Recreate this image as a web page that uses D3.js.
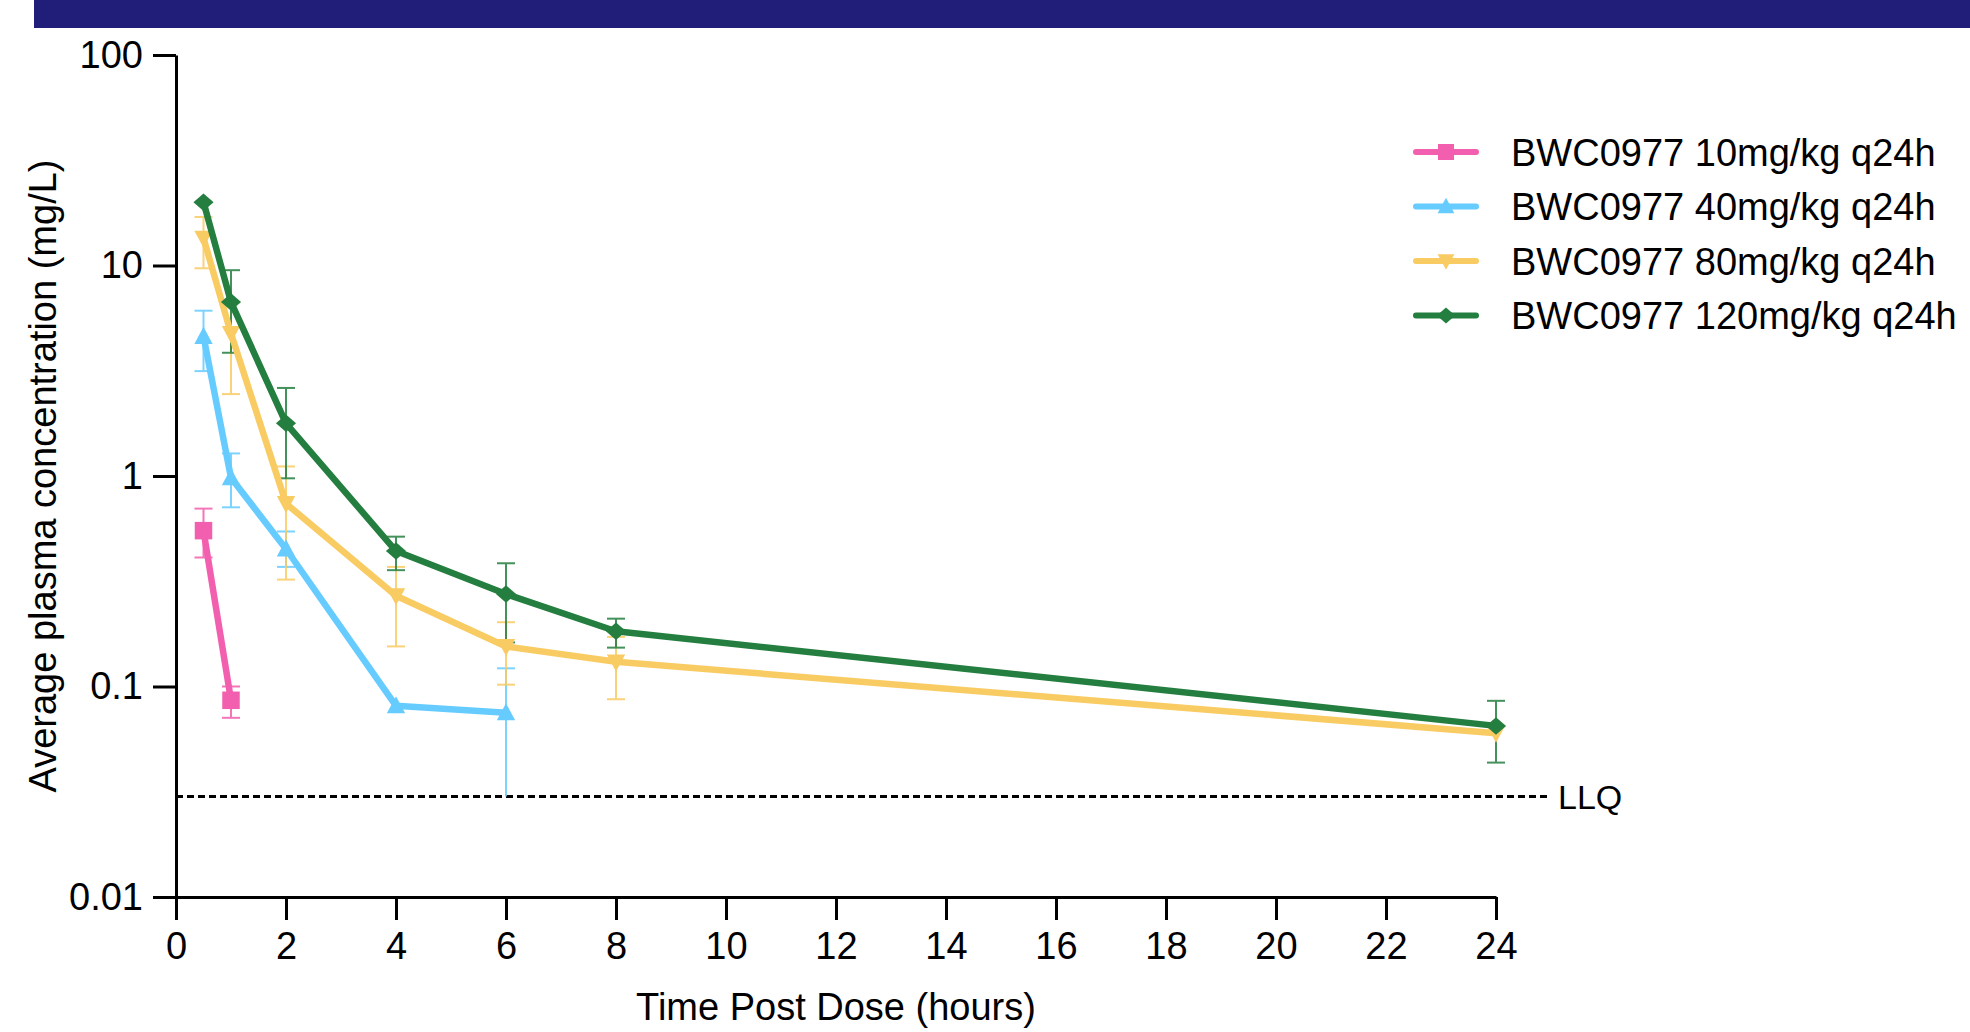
<!DOCTYPE html>
<html>
<head>
<meta charset="utf-8">
<script src="https://cdn.jsdelivr.net/npm/d3@7"></script>
<style>
  html, body { margin: 0; padding: 0; background: #ffffff; }
  svg { display: block; }
  text { font-family: "Liberation Sans", Arial, Helvetica, sans-serif; fill: #000; }
</style>
</head>
<body>
<svg id="chart" width="1970" height="1032"></svg>
<script>
// ---------------- DATA ----------------
const seriesNames = [
  "BWC0977 10mg/kg q24h",
  "BWC0977 40mg/kg q24h",
  "BWC0977 80mg/kg q24h",
  "BWC0977 120mg/kg q24h"
];
const seriesColors = ["#F25FAE", "#66CCFF", "#F9CB63", "#247E3F"];
const seriesSymbols = ["square", "triangleUp", "triangleDown", "diamond"];

// time points (hours)
const times10  = [0.5, 1];
const times40  = [0.5, 1, 2, 4, 6];
const times80  = [0.5, 1, 2, 4, 6, 8, 24];
const times120 = [0.5, 1, 2, 4, 6, 8, 24];

// mean concentrations (mg/L)
const mean10  = [0.55, 0.086];
const mean40  = [4.6, 0.98, 0.45, 0.081, 0.075];
const mean80  = [13.5, 4.75, 0.74, 0.27, 0.155, 0.131, 0.060];
const mean120 = [20.0, 6.7, 1.78, 0.44, 0.275, 0.183, 0.065];

// error bar upper / lower limits (mg/L), null = not shown
const upper10  = [0.70, 0.100];
const lower10  = [0.41, 0.071];
const upper40  = [6.1, 1.28, 0.545, null, 0.122];
const lower40  = [3.15, 0.71, 0.37, null, 0.030];
const upper80  = [17.0, 6.7, 1.11, 0.37, 0.202, 0.172, null];
const lower80  = [9.7, 2.45, 0.322, 0.155, 0.102, 0.087, null];
const upper120 = [null, 9.5, 2.62, 0.515, 0.385, 0.21, 0.0855];
const lower120 = [null, 3.85, 0.975, 0.357, 0.162, 0.153, 0.0435];

const xTickValues = [0, 2, 4, 6, 8, 10, 12, 14, 16, 18, 20, 22, 24];
const yTickValues = [0.01, 0.1, 1, 10, 100];
const yTickLabels = ["0.01", "0.1", "1", "10", "100"];
const llqValue = 0.03;
const llqLabel = "LLQ";
const xTitle = "Time Post Dose (hours)";
const yTitle = "Average plasma concentration (mg/L)";

// -------------- BUILD -----------------
const seriesTimes = [times10, times40, times80, times120];
const seriesMeans = [mean10, mean40, mean80, mean120];
const seriesUpper = [upper10, upper40, upper80, upper120];
const seriesLower = [lower10, lower40, lower80, lower120];

const series = seriesNames.map((name, i) => ({
  name, color: seriesColors[i], symbol: seriesSymbols[i],
  points: seriesTimes[i].map((t, j) => ({
    t, v: seriesMeans[i][j], hi: seriesUpper[i][j], lo: seriesLower[i][j]
  }))
}));

const svg = d3.select("#chart");
const W = 1970, H = 1032;
const plot = { left: 176, right: 1496, top: 55, bottom: 897 };

// banner
svg.append("rect").attr("x", 34).attr("y", 0).attr("width", W - 34).attr("height", 28)
  .attr("fill", "#211E7A");

const x = d3.scaleLinear().domain([0, 24]).range([plot.left, plot.right]);
const y = d3.scaleLog().domain([0.01, 100]).range([plot.bottom, plot.top]);

const FS = 38;

// Y axis
const yAxis = d3.axisLeft(y).tickValues(yTickValues)
  .tickFormat((d, i) => yTickLabels[i]).tickSize(23).tickSizeOuter(0).tickPadding(10);
const gy = svg.append("g").attr("transform", `translate(${plot.left},0)`).call(yAxis);
gy.select(".domain").attr("stroke", "#000").attr("stroke-width", 3);
gy.selectAll(".tick line").attr("stroke", "#000").attr("stroke-width", 3);
gy.selectAll(".tick text").attr("font-size", FS).attr("font-family", "Liberation Sans, Arial, sans-serif")
  .attr("fill", "#000");

// X axis
const xAxis = d3.axisBottom(x).tickValues(xTickValues)
  .tickSize(23).tickSizeOuter(0).tickPadding(12);
const gx = svg.append("g").attr("transform", `translate(0,${plot.bottom})`).call(xAxis);
gx.select(".domain").attr("stroke", "#000").attr("stroke-width", 3);
gx.selectAll(".tick line").attr("stroke", "#000").attr("stroke-width", 3);
gx.selectAll(".tick text").attr("font-size", FS).attr("font-family", "Liberation Sans, Arial, sans-serif")
  .attr("fill", "#000");

// axis titles
svg.append("text").attr("x", (plot.left + plot.right) / 2).attr("y", 1020)
  .attr("text-anchor", "middle").attr("font-size", FS).text(xTitle);
svg.append("text")
  .attr("transform", `translate(56,${(plot.top + plot.bottom) / 2}) rotate(-90)`)
  .attr("text-anchor", "middle").attr("font-size", FS).text(yTitle);

// LLQ line
svg.append("line").attr("x1", plot.left).attr("x2", 1547)
  .attr("y1", y(llqValue)).attr("y2", y(llqValue))
  .attr("stroke", "#000").attr("stroke-width", 3).attr("stroke-dasharray", "7,4");
svg.append("text").attr("x", 1558).attr("y", y(llqValue)).attr("dy", "0.36em")
  .attr("font-size", 34).text(llqLabel);

// symbol generator
function symPath(kind, s) {
  const h = s / 2;
  switch (kind) {
    case "square": return `M${-h},${-h}H${h}V${h}H${-h}Z`;
    case "triangleUp": return `M0,${-h * 1.1}L${h * 1.05},${h * 0.85}L${-h * 1.05},${h * 0.85}Z`;
    case "triangleDown": return `M0,${h * 1.1}L${h * 1.05},${-h * 0.85}L${-h * 1.05},${-h * 0.85}Z`;
    case "diamond": return `M0,${-h * 1.0}L${h * 1.15},0L0,${h * 1.0}L${-h * 1.15},0Z`;
  }
}

const line = d3.line().x(d => x(d.t)).y(d => y(d.v));
const capW = 9;

// error bars
series.forEach(s => {
  const g = svg.append("g").attr("opacity", 0.85);
  s.points.forEach(p => {
    if (p.hi == null) return;
    const cx = x(p.t);
    g.append("line").attr("x1", cx).attr("x2", cx).attr("y1", y(p.hi)).attr("y2", y(p.lo))
      .attr("stroke", s.color).attr("stroke-width", 2);
    g.append("line").attr("x1", cx - capW).attr("x2", cx + capW).attr("y1", y(p.hi)).attr("y2", y(p.hi))
      .attr("stroke", s.color).attr("stroke-width", 2);
    if (p.lo > llqValue) {
      g.append("line").attr("x1", cx - capW).attr("x2", cx + capW).attr("y1", y(p.lo)).attr("y2", y(p.lo))
        .attr("stroke", s.color).attr("stroke-width", 2);
    }
  });
});

// lines + markers
series.forEach(s => {
  svg.append("path").datum(s.points).attr("d", line).attr("fill", "none")
    .attr("stroke", s.color).attr("stroke-width", 6.5).attr("stroke-linejoin", "round");
  svg.append("g").selectAll("path").data(s.points).join("path")
    .attr("transform", d => `translate(${x(d.t)},${y(d.v)})`)
    .attr("d", symPath(s.symbol, 17.5)).attr("fill", s.color);
});

// legend
const legY0 = 152, legDy = 54.5;
series.forEach((s, i) => {
  const ly = legY0 + i * legDy;
  svg.append("line").attr("x1", 1416).attr("x2", 1476).attr("y1", ly).attr("y2", ly)
    .attr("stroke", s.color).attr("stroke-width", 6).attr("stroke-linecap", "round");
  svg.append("path").attr("transform", `translate(1446,${ly})`)
    .attr("d", symPath(s.symbol, 16)).attr("fill", s.color);
  svg.append("text").attr("x", 1511).attr("y", ly).attr("dy", "0.36em")
    .attr("font-size", FS).text(s.name);
});
</script>
</body>
</html>
